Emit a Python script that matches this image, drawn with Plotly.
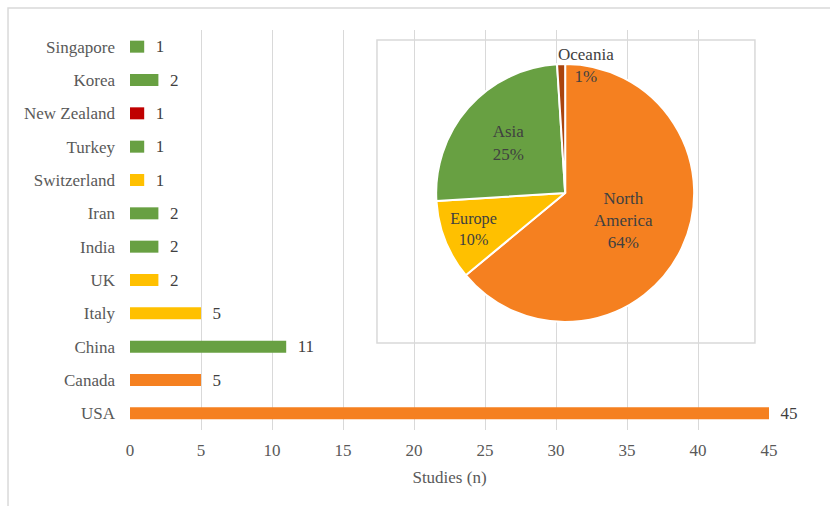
import plotly.graph_objects as go

# Studies per country (top to bottom as listed on the axis)
countries = ["Singapore", "Korea", "New Zealand", "Turkey", "Switzerland", "Iran",
             "India", "UK", "Italy", "China", "Canada", "USA"]
studies = [1, 2, 1, 1, 1, 2, 2, 2, 5, 11, 5, 45]
regions = ["Asia", "Asia", "Oceania", "Asia", "Europe", "Asia",
           "Asia", "Europe", "Europe", "Asia", "North America", "North America"]

# Share of studies per continent (percent)
continents = ["North America", "Europe", "Asia", "Oceania"]
continent_labels = ["North<br>America", "Europe", "Asia", "Oceania"]
continent_pct = [64, 10, 25, 1]

region_colors = {
    "North America": "#F58020",
    "Europe": "#FFC000",
    "Asia": "#68A042",
    "Oceania": "#C00000",
}
pie_colors = ["#F58020", "#FFC000", "#68A042", "#A9440E"]

x_ticks = [0, 5, 10, 15, 20, 25, 30, 35, 40, 45]

FONT = "Liberation Serif, Times New Roman, serif"
FS = 17
TEXT = "#404040"
TICK = "#595959"
GRID = "#D9D9D9"

fig = go.Figure()

# En space keeps the value labels a little away from the bar ends
fig.add_trace(go.Bar(
    x=studies,
    y=countries,
    orientation="h",
    width=0.36,
    marker=dict(color=[region_colors[r] for r in regions], line=dict(width=0)),
    text=["\u2002" + str(v) for v in studies],
    textposition="outside",
    constraintext="none",
    textfont=dict(family=FONT, size=FS, color=TEXT),
    cliponaxis=False,
    hoverinfo="x+y",
    showlegend=False,
))

# The tiny Oceania slice is labelled separately above the pie
pie_text = [f"{lab}<br>{p}%" for lab, p in zip(continent_labels, continent_pct)]
fig.add_trace(go.Pie(
    labels=continents,
    values=continent_pct,
    text=pie_text,
    textinfo="text",
    textposition=["inside", "inside", "inside", "none"],
    insidetextorientation="horizontal",
    textfont=dict(family=FONT, size=FS, color=TEXT),
    marker=dict(colors=pie_colors, line=dict(color="white", width=2)),
    sort=False,
    direction="clockwise",
    rotation=0,
    domain=dict(x=[0.479, 0.883], y=[0.27, 0.915]),
    showlegend=False,
))

fig.add_annotation(
    xref="paper", yref="paper", x=0.713, y=0.912,
    text=pie_text[3], showarrow=False,
    font=dict(family=FONT, size=FS, color=TEXT),
    align="center", xanchor="center", yanchor="middle",
)

# Inset frame behind the pie
fig.add_shape(type="rect", xref="paper", yref="paper",
              x0=0.3865, x1=0.978, y0=0.2175, y1=0.975,
              line=dict(color=GRID, width=1.5), fillcolor="white", layer="between")

# Chart area frame
fig.add_shape(type="rect", xref="paper", yref="paper",
              x0=-0.1909, x1=1.2, y0=-0.4, y1=1.055,
              line=dict(color=GRID, width=1.5), fillcolor="rgba(0,0,0,0)", layer="below")

fig.update_layout(
    width=830, height=506,
    margin=dict(l=130, r=61, t=30, b=76),
    paper_bgcolor="white",
    plot_bgcolor="white",
    font=dict(family=FONT, size=FS, color=TICK),
    bargap=0.64,
    xaxis=dict(
        range=[0, 45],
        tickvals=x_ticks,
        showgrid=True, gridcolor=GRID, gridwidth=1,
        zeroline=False, showline=False, ticks="",
        ticklabelstandoff=8,
        tickfont=dict(family=FONT, size=FS, color=TICK),
        title=dict(text="Studies (n)", font=dict(family=FONT, size=FS, color=TICK), standoff=12),
    ),
    yaxis=dict(
        autorange="reversed",
        showgrid=False, zeroline=False, showline=False, ticks="",
        ticklabelstandoff=14,
        tickfont=dict(family=FONT, size=FS, color=TICK),
    ),
)

fig.write_html("out.html")
